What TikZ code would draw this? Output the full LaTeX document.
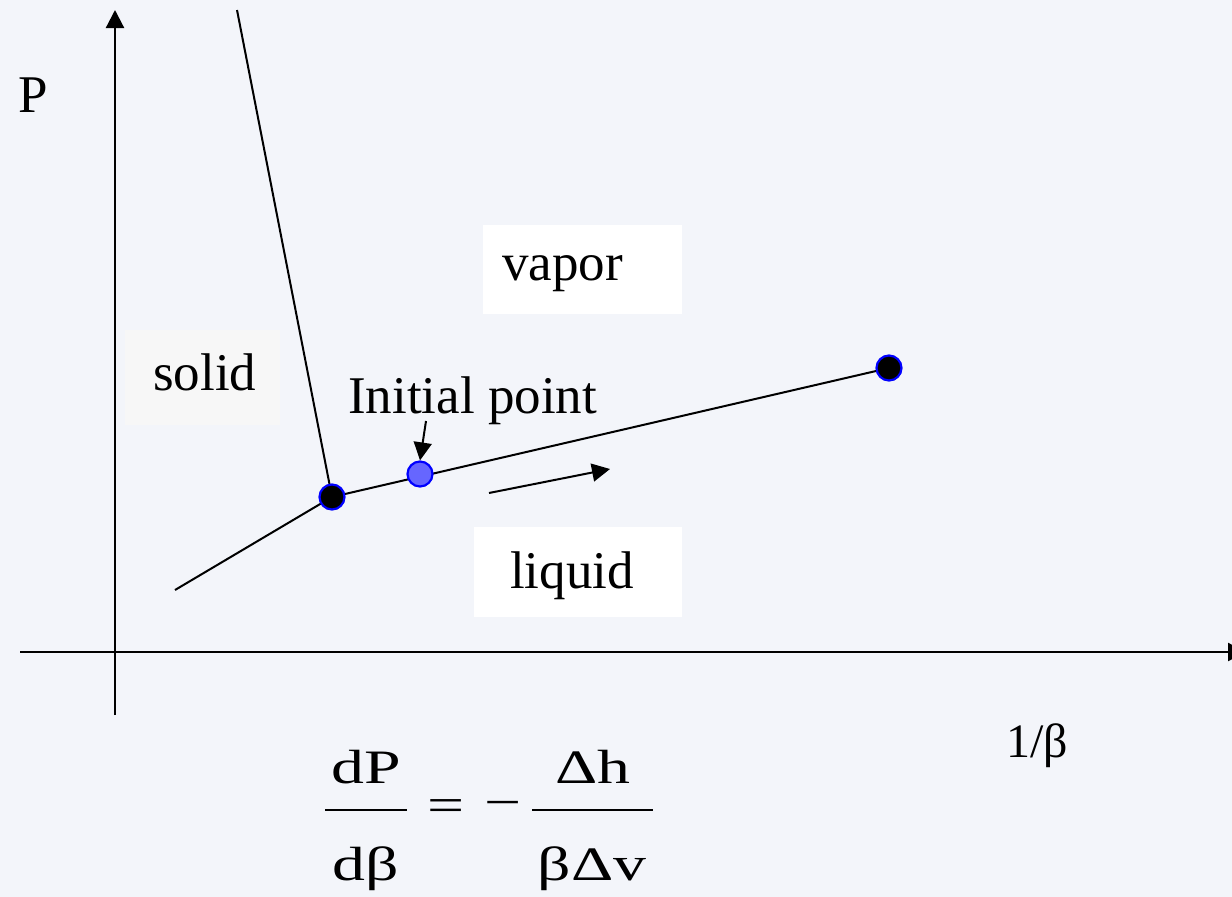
\documentclass[tikz,border=0pt]{standalone}
\usepackage{graphicx}
\usepackage{fontspec}
\setmainfont{Liberation Serif}
\usetikzlibrary{arrows.meta}
\definecolor{bgcol}{RGB}{243,245,250}
\definecolor{ptblue}{RGB}{0,0,255}
\definecolor{initfill}{RGB}{102,102,255}
\definecolor{solidbox}{RGB}{247,247,247}
\pgfdeclarelayer{back}
\pgfsetlayers{back,main}
\begin{document}
\begin{tikzpicture}[x=1pt,y=-1pt,
  lbl/.style={inner sep=0pt, anchor=base west, font=\fontsize{53}{60}\selectfont},
  eqn/.style={inner sep=0pt, anchor=base, font=\fontsize{48}{56}\selectfont},
  box/.style={fill=white, draw=none, anchor=north west, inner sep=0pt},
  dot/.style={circle, draw=ptblue, line width=2.2pt, minimum size=25pt, inner sep=0pt},
  arr/.style={-{Triangle[length=18pt 0 0,width=18pt 0 0]}},
  phase/.style={line width=2pt},
  axis/.style={line width=2.2pt}]
\useasboundingbox (0,0) rectangle (1232,897);

% points
\node[dot, fill=black] (tp) at (332,497) {};
\node[dot, fill=black] (cp) at (889,368) {};
\node[dot, fill=initfill] (init) at (420,474) {};

% axis ends and free ends
\coordinate (yb) at (115,715);
\coordinate (yt) at (115,10);
\coordinate (xl) at (20,652);
\coordinate (xr) at (1246,652);
\coordinate (svtop) at (237,10);
\coordinate (sllow) at (175,590);
\coordinate (ia) at (426,421);
\coordinate (la) at (489,493);
\coordinate (lb) at (610,469);

\begin{pgfonlayer}{back}
\fill[bgcol] (0,0) rectangle (1232,897);
% text boxes
\node[box, fill=solidbox, minimum width=155pt, minimum height=95pt] (solidbg) at (125,330) {};
\node[box, minimum width=199pt, minimum height=89pt] (vaporbg) at (483,225) {};
\node[box, minimum width=208pt, minimum height=90pt] (liquidbg) at (474,527) {};
\draw[axis, arr] (yb) -- (yt);
\draw[axis, arr] (xl) -- (xr);
\draw[phase] (svtop) -- (tp.center);
\draw[phase] (sllow) -- (tp.center);
\draw[phase] (tp.center) -- (cp.center);
\end{pgfonlayer}

\draw[phase, arr] (ia) -- (init.north);
\draw[phase, arr] (la) -- (lb);

% labels
\node[lbl] (P) at (18,112) {P};
\node[lbl] (solid) at (153,390) {solid};
\node[lbl] (vapor) at (502,280) {vapor};
\node[lbl] (liquid) at (510,588) {liquid};
\node[lbl] (initlbl) at (348,413) {Initial point};
\node[lbl, font=\fontsize{48}{56}\selectfont] (invb) at (1006,757) {1/β};

% equation
\node[eqn] (dP) at (366,783) {\scalebox{1.37}[1]{dP}};
\node[eqn] (dbeta) at (366,880) {\scalebox{1.37}[1]{dβ}};
\node[eqn] (dh) at (593,783) {\scalebox{1.37}[1]{Δh}};
\node[eqn] (bdv) at (592,880) {\scalebox{1.37}[1]{βΔv}};
\node[inner sep=0pt, font=\fontsize{48}{56}\selectfont] (eq) at (446,811) {\scalebox{1.37}[1]{=}};
\node[inner sep=0pt, font=\fontsize{48}{56}\selectfont] (minus) at (503,810) {\scalebox{1.37}[1]{−}};
\coordinate (b1l) at (325,810);
\coordinate (b1r) at (407,810);
\coordinate (b2l) at (532,810);
\coordinate (b2r) at (653,810);
\draw[line width=2.6pt] (b1l) -- (b1r);
\draw[line width=2.6pt] (b2l) -- (b2r);
\end{tikzpicture}
\end{document}
